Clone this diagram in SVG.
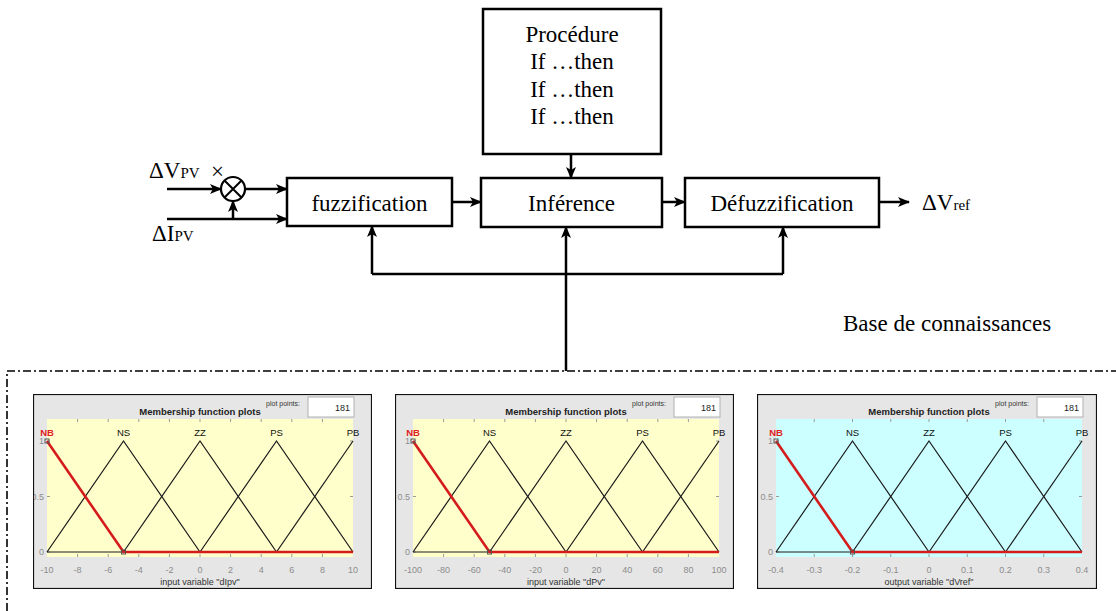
<svg xmlns="http://www.w3.org/2000/svg" width="1116" height="611" viewBox="0 0 1116 611">
  <style>
    .box{fill:#fff;stroke:#000;stroke-width:2.5}
    .lbl{font-family:"Liberation Serif","Times New Roman",serif;font-size:23px;fill:#000}
    .mid{text-anchor:middle}
    .sub{font-size:15px}
    .wire{fill:none;stroke:#000;stroke-width:2.5}
    .arr{marker-end:url(#ah)}
    .frame{fill:none;stroke:#000;stroke-width:1.6;stroke-dasharray:8 3 2 3}
    .panel{fill:#e6e6e6}
    .pborder{fill:none;stroke:#111;stroke-width:2.2}
    .yel{fill:#ffffcc}
    .cyan{fill:#ccffff}
    .mf{fill:none;stroke:#1a1a1a;stroke-width:1.2}
    .sel{fill:none;stroke:#d41c1c;stroke-width:2.6}
    .grid{fill:none;stroke:#9a9a9a;stroke-width:1}
    .sans{font-family:"Liberation Sans",Arial,sans-serif}
    .mfl{font-size:9.5px;fill:#111;text-anchor:middle}
    .tk{font-size:9px;fill:#8c8c8c;text-anchor:middle}
    .yl{font-size:9px;fill:#8c8c8c;text-anchor:end}
    .xl{font-size:9px;fill:#333;text-anchor:middle}
  </style>
  <defs>
    <marker id="ah" viewBox="0 0 12 10" refX="11" refY="5" markerWidth="12" markerHeight="10" markerUnits="userSpaceOnUse" orient="auto">
      <path d="M0,0 L12,5 L0,10 L3,5 z" fill="#000"/>
    </marker>
    <clipPath id="c1"><rect x="33" y="394" width="339" height="195"/></clipPath>
    <clipPath id="c2"><rect x="395" y="394" width="339" height="195"/></clipPath>
    <clipPath id="c3"><rect x="757" y="394" width="340" height="195"/></clipPath>
    <!-- five triangular membership functions on a 306 px wide axis; NB highlighted -->
    <g id="mfplot">
      <path class="grid" d="M0,552h3M0,496.5h3M0,441h3M306,552h-3M306,496.5h-3M306,441h-3"/>
      <path class="mf" d="M0,552H306"/>
      <polyline class="mf" points="0,552 76.5,441 153,552"/>
      <polyline class="mf" points="76.5,552 153,441 229.5,552"/>
      <polyline class="mf" points="153,552 229.5,441 306,552"/>
      <polyline class="mf" points="229.5,552 306,441"/>
      <polyline class="sel" points="0,441 76.5,552 306,552"/>
      <rect x="-2" y="439" width="4" height="4" fill="none" stroke="#555" stroke-width="1"/>
      <rect x="74.5" y="550" width="4" height="4" fill="none" stroke="#555" stroke-width="1"/>
      <text class="sans mfl" x="0" y="436" fill="#e02020" style="fill:#e02020;font-weight:bold">NB</text>
      <text class="sans mfl" x="76.5" y="436">NS</text>
      <text class="sans mfl" x="153" y="436">ZZ</text>
      <text class="sans mfl" x="229.5" y="436">PS</text>
      <text class="sans mfl" x="306" y="436">PB</text>
      <text class="sans yl" x="-3" y="444">1</text>
      <text class="sans yl" x="-3" y="499.5">0.5</text>
      <text class="sans yl" x="-3" y="555">0</text>
      <text class="sans" x="153" y="415" font-size="9.5" font-weight="bold" fill="#222" text-anchor="middle">Membership function plots</text>
      <text class="sans" x="236" y="406" font-size="7" fill="#333" text-anchor="middle">plot points:</text>
      <rect x="261" y="397" width="46" height="20" fill="#fff" stroke="#b0b0b0" stroke-width="1"/>
      <text class="sans" x="303" y="411" font-size="9" fill="#222" text-anchor="end">181</text>
    </g>
  </defs>

  <rect width="1116" height="611" fill="#fff"/>

  <!-- rule base -->
  <g id="procedure">
    <rect class="box" x="483" y="9" width="178" height="145"/>
    <text class="lbl mid" x="572" y="42">Procédure</text>
    <text class="lbl mid" x="572" y="69">If …then</text>
    <text class="lbl mid" x="572" y="97">If …then</text>
    <text class="lbl mid" x="572" y="124">If …then</text>
  </g>

  <g id="fuzzification">
    <rect class="box" x="287" y="178" width="165" height="48"/>
    <text class="lbl mid" x="369.5" y="211">fuzzification</text>
  </g>

  <g id="inference">
    <rect class="box" x="481" y="178" width="181" height="49"/>
    <text class="lbl mid" x="571.5" y="211">Inférence</text>
  </g>

  <g id="defuzzification">
    <rect class="box" x="685" y="178" width="194" height="49"/>
    <text class="lbl mid" x="782" y="211">Défuzzification</text>
  </g>

  <g id="multiplier">
    <circle cx="233" cy="189" r="12" fill="#fff" stroke="#000" stroke-width="2.2"/>
    <path d="M224.5,180.5L241.5,197.5M241.5,180.5L224.5,197.5" stroke="#000" stroke-width="2"/>
  </g>

  <g id="signals">
    <text class="lbl" x="149" y="178">ΔV<tspan class="sub">PV</tspan></text>
    <text class="lbl" x="211" y="179" font-size="18">×</text>
    <text class="lbl" x="152" y="241">ΔI<tspan class="sub">PV</tspan></text>
    <text class="lbl" x="922" y="210">ΔV<tspan class="sub">ref</tspan></text>
    <text class="lbl" x="843" y="331" font-size="21">Base de connaissances</text>
  </g>

  <g id="connectors">
    <path class="wire arr" d="M167,189H221"/>
    <path class="wire arr" d="M245,189H287"/>
    <path class="wire arr" d="M167,219H287"/>
    <path class="wire arr" d="M233,219V201"/>
    <path class="wire arr" d="M452,202H481"/>
    <path class="wire arr" d="M662,202H685"/>
    <path class="wire arr" d="M879,202H909"/>
    <path class="wire arr" d="M571,154V178"/>
    <path class="wire" d="M372,274H783"/>
    <path class="wire arr" d="M372,274V226"/>
    <path class="wire arr" d="M783,274V227"/>
    <path class="wire arr" d="M566,371V227"/>
  </g>

  <!-- knowledge base frame -->
  <path id="kb-frame" class="frame" d="M7,611V371H1116"/>

  <!-- membership plots: dIpv -->
  <g id="plot-dIpv" clip-path="url(#c1)">
    <rect class="panel" x="33" y="394" width="339" height="195"/>
    <rect class="yel" x="47" y="419" width="306" height="138"/>
    <path class="grid" d="M77.6,419v3M108.2,419v3M138.8,419v3M169.4,419v3M200,419v3M230.6,419v3M261.2,419v3M291.8,419v3M322.4,419v3M77.6,557v-3M108.2,557v-3M138.8,557v-3M169.4,557v-3M200,557v-3M230.6,557v-3M261.2,557v-3M291.8,557v-3M322.4,557v-3"/>
    <use href="#mfplot" transform="translate(47,0)"/>
    <g class="sans tk">
      <text x="47" y="573">-10</text><text x="77.6" y="573">-8</text><text x="108.2" y="573">-6</text>
      <text x="138.8" y="573">-4</text><text x="169.4" y="573">-2</text><text x="200" y="573">0</text>
      <text x="230.6" y="573">2</text><text x="261.2" y="573">4</text><text x="291.8" y="573">6</text>
      <text x="322.4" y="573">8</text><text x="353" y="573">10</text>
    </g>
    <text class="sans xl" x="200" y="585">input variable "dIpv"</text>
    <rect class="pborder" x="33" y="394" width="339" height="195"/>
  </g>

  <!-- membership plots: dPv -->
  <g id="plot-dPv" clip-path="url(#c2)">
    <rect class="panel" x="395" y="394" width="339" height="195"/>
    <rect class="yel" x="413" y="419" width="306" height="138"/>
    <path class="grid" d="M443.6,419v3M474.2,419v3M504.8,419v3M535.4,419v3M566,419v3M596.6,419v3M627.2,419v3M657.8,419v3M688.4,419v3M443.6,557v-3M474.2,557v-3M504.8,557v-3M535.4,557v-3M566,557v-3M596.6,557v-3M627.2,557v-3M657.8,557v-3M688.4,557v-3"/>
    <use href="#mfplot" transform="translate(413,0)"/>
    <g class="sans tk">
      <text x="413" y="573">-100</text><text x="443.6" y="573">-80</text><text x="474.2" y="573">-60</text>
      <text x="504.8" y="573">-40</text><text x="535.4" y="573">-20</text><text x="566" y="573">0</text>
      <text x="596.6" y="573">20</text><text x="627.2" y="573">40</text><text x="657.8" y="573">60</text>
      <text x="688.4" y="573">80</text><text x="719" y="573">100</text>
    </g>
    <text class="sans xl" x="566" y="585">input variable "dPv"</text>
    <rect class="pborder" x="395" y="394" width="339" height="195"/>
  </g>

  <!-- membership plots: dVref -->
  <g id="plot-dVref" clip-path="url(#c3)">
    <rect class="panel" x="757" y="394" width="340" height="195"/>
    <rect class="cyan" x="776" y="419" width="306" height="138"/>
    <path class="grid" d="M814.25,419v3M852.5,419v3M890.75,419v3M929,419v3M967.25,419v3M1005.5,419v3M1043.75,419v3M814.25,557v-3M852.5,557v-3M890.75,557v-3M929,557v-3M967.25,557v-3M1005.5,557v-3M1043.75,557v-3"/>
    <use href="#mfplot" transform="translate(776,0)"/>
    <g class="sans tk">
      <text x="776" y="573">-0.4</text><text x="814.25" y="573">-0.3</text><text x="852.5" y="573">-0.2</text>
      <text x="890.75" y="573">-0.1</text><text x="929" y="573">0</text><text x="967.25" y="573">0.1</text>
      <text x="1005.5" y="573">0.2</text><text x="1043.75" y="573">0.3</text><text x="1082" y="573">0.4</text>
    </g>
    <text class="sans xl" x="929" y="585">output variable "dVref"</text>
    <rect class="pborder" x="757" y="394" width="340" height="195"/>
  </g>
</svg>
